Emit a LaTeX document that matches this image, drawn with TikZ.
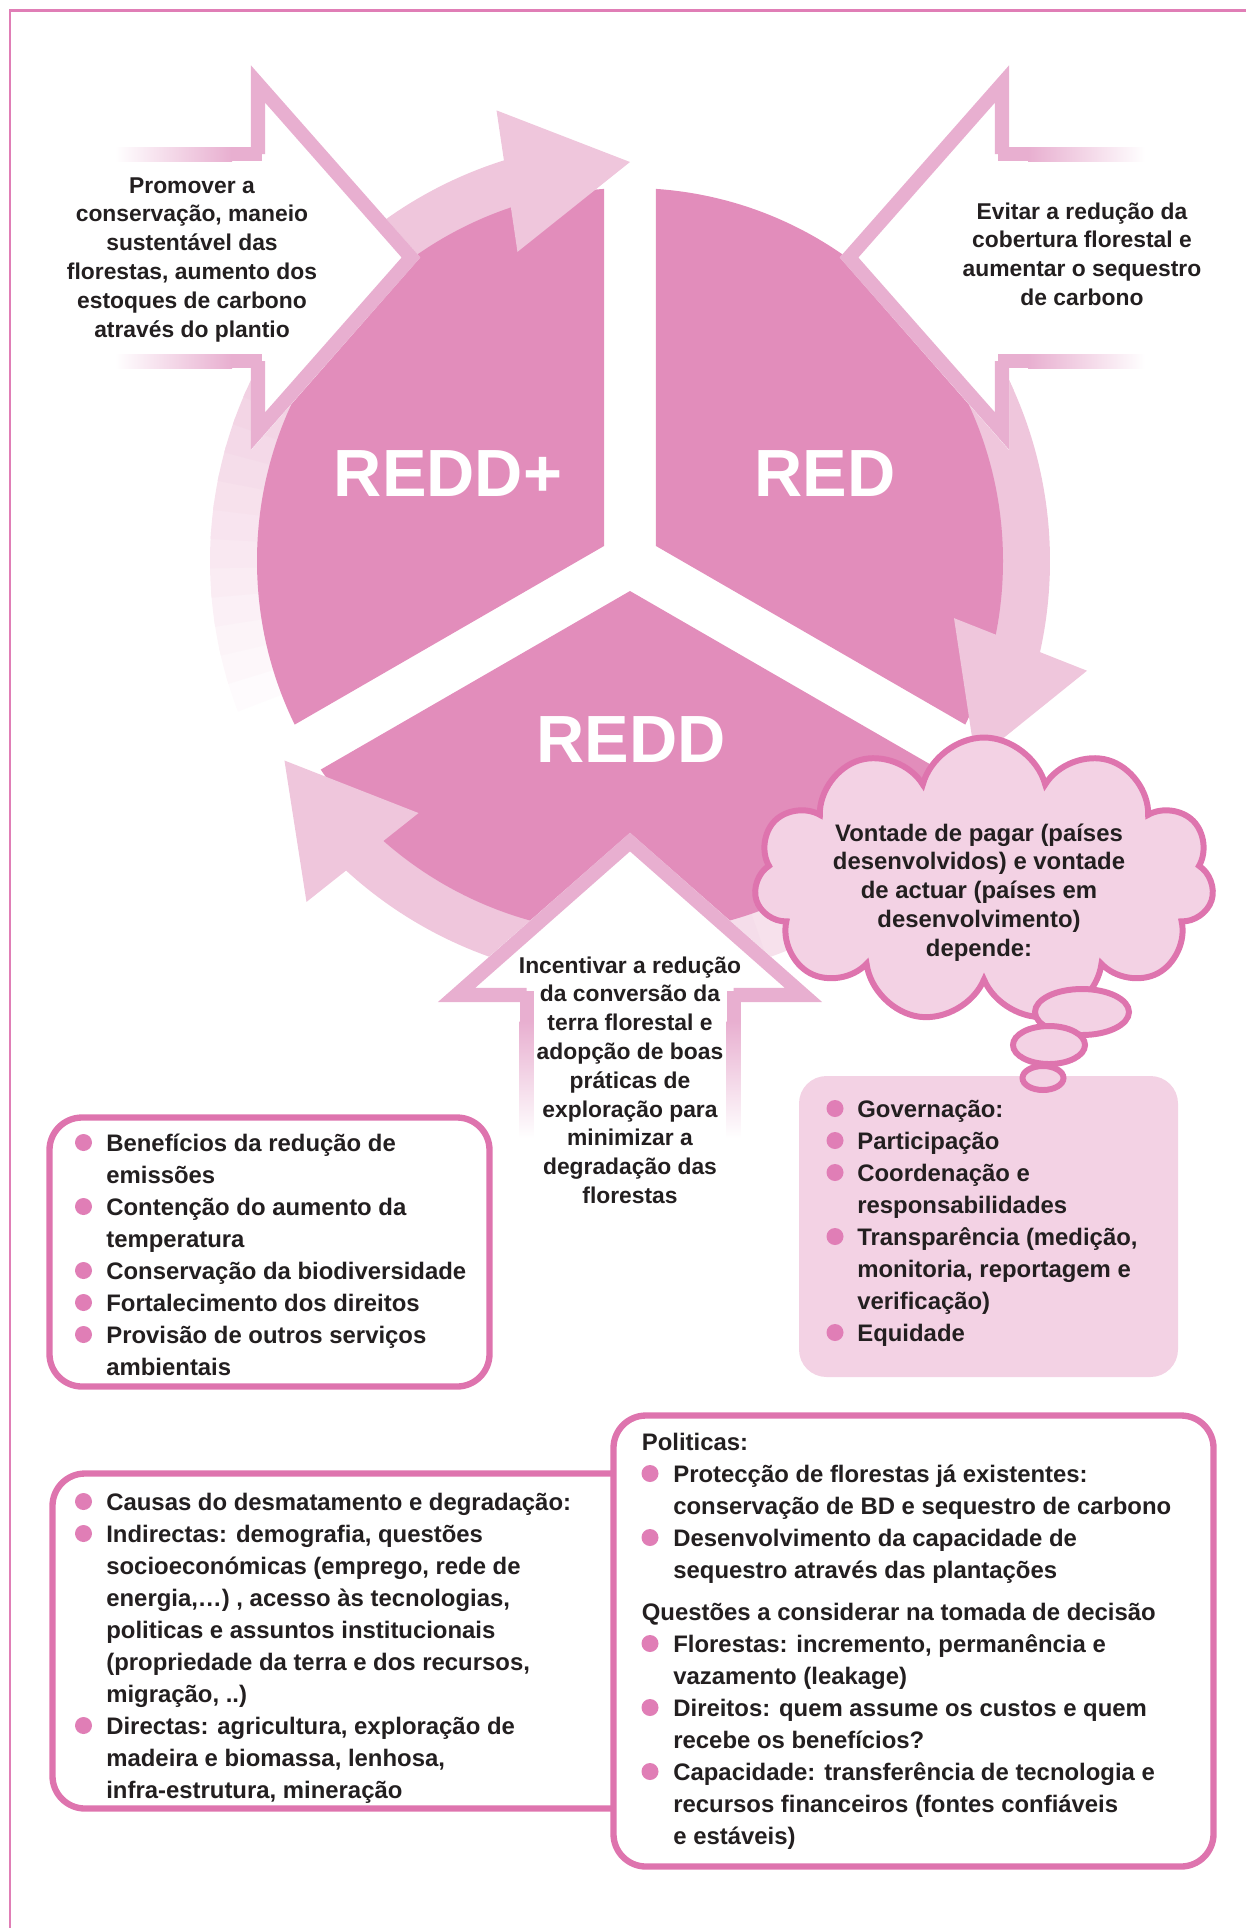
\documentclass[tikz,border=0pt]{standalone}
\usepackage{fontspec}
\setmainfont{Liberation Sans}
\usetikzlibrary{shapes.symbols}

\definecolor{reddpink}{HTML}{E28DBB}
\definecolor{bandpink}{HTML}{EFC6DC}
\definecolor{callpink}{HTML}{E8AFD0}
\definecolor{boxpink}{HTML}{DE74AE}
\definecolor{cloudfill}{HTML}{F3D2E4}
\definecolor{dotpink}{HTML}{E07EB6}
\definecolor{ink}{HTML}{231F20}

\begin{document}
\begin{tikzpicture}[x=0.02cm, y=-0.02cm,
    boxtxt/.style={anchor=base west, inner sep=0pt, text=ink, font=\fontsize{13.6}{16}\selectfont\bfseries},
    calltxt/.style={anchor=base, inner sep=0pt, text=ink, font=\fontsize{13}{16}\selectfont\bfseries},
    cloudtxt/.style={calltxt, font=\fontsize{13.6}{16}\selectfont\bfseries},
    bigtxt/.style={inner sep=0pt, text=white, font=\fontsize{38}{40}\selectfont\bfseries},
    listbox/.style={draw=boxpink, line width=3.6pt, fill=white, rounded corners=0.65cm},
    callout/.style={draw=callpink, line width=8pt, line join=miter},
    bubble/.style={draw=boxpink, line width=3.4pt, fill=cloudfill}]
\useasboundingbox (0,0) rectangle (1246,1928);
% frame
\draw[dotpink, line width=1.7pt] (1246,10) -- (10,10) -- (10,1928);

% circle with the three arrows round it
\begin{scope}[shift={(630,561)}]
  \foreach \s/\f in {0/155,120/198,240/155} {
    \foreach \i in {0,...,14} {
      \pgfmathsetmacro\a{\f+\s+\i*(215-\f)/15}
      \pgfmathsetmacro\b{\a+(215-\f)/15+1}
      \pgfmathsetmacro\p{\i*100/15}
      \fill[bandpink!\p!white] (\a:350) arc[start angle=\a, end angle=\b, radius=350]
        -- (\b:420) arc[start angle=\b, end angle=\a, radius=420] -- cycle;
    }
    \fill[bandpink] (214+\s:350) arc[start angle=214+\s, end angle=253+\s, radius=350]
      -- (253+\s:420) arc[start angle=253+\s, end angle=214+\s, radius=420] -- cycle;
  }
  \begin{scope}
    \clip (0,0) circle[radius=373];
    \foreach \b in {90,210,330}
      \fill[reddpink] (\b:30) -- +(\b-60:900) -- +(\b:900) -- +(\b+60:900) -- cycle;
  \end{scope}
  \foreach \s in {0,120,240}
    \fill[bandpink] (250+\s:329) -- (270+\s:399) -- (253.5+\s:470) -- cycle;
\end{scope}

% left callout
\fill[white] (115,147) -- (251,147) -- (251,65) -- (420,257.5) -- (251,450) -- (251,368) -- (115,368) -- cycle;
\draw[callout] (258,154) -- (258,84) -- (411,257.5) -- (258,431) -- (258,361);
\shade[left color=white, right color=callpink] (115,147) rectangle (232,161);
\shade[left color=white, right color=callpink] (115,354) rectangle (232,368);
\fill[callpink] (231,147) rectangle (262,161);
\fill[callpink] (231,354) rectangle (262,368);

% right callout
\fill[white] (1145,147) -- (1009,147) -- (1009,65) -- (840,257.5) -- (1009,450) -- (1009,368) -- (1145,368) -- cycle;
\draw[callout] (1002,154) -- (1002,84) -- (849,257.5) -- (1002,431) -- (1002,361);
\shade[left color=callpink, right color=white] (1028,147) rectangle (1145,161);
\shade[left color=callpink, right color=white] (1028,354) rectangle (1145,368);
\fill[callpink] (998,147) rectangle (1029,161);
\fill[callpink] (998,354) rectangle (1029,368);

% bottom callout
\fill[white] (519.5,1138) -- (519.5,1002) -- (437.5,1002) -- (630,833) -- (822.5,1002) -- (740.5,1002) -- (740.5,1138) -- cycle;
\draw[callout] (526.5,995) -- (456.5,995) -- (630,842) -- (803.5,995) -- (733.5,995);
\shade[top color=callpink, bottom color=white] (519.5,1021) rectangle (533.5,1138);
\shade[top color=callpink, bottom color=white] (726.5,1021) rectangle (740.5,1138);
\fill[callpink] (519.5,991) rectangle (533.5,1022);
\fill[callpink] (726.5,991) rectangle (740.5,1022);

\node[bigtxt] (reddplus) at (448,474) {REDD+};
\node[bigtxt] (red) at (825,474) {RED};
\node[bigtxt] (redd) at (631,740) {REDD};

\foreach \t [count=\k from 0] in {Promover a, {conservação, maneio}, sustentável das,
    {florestas, aumento dos}, estoques de carbono, através do plantio}
  \node[calltxt] (prom\k) at (192,{193+28.8*\k}) {\t};
\foreach \t [count=\k from 0] in {Evitar a redução da, cobertura florestal e,
    aumentar o sequestro, de carbono}
  \node[calltxt] (evit\k) at (1082,{219+28.8*\k}) {\t};
\foreach \t [count=\k from 0] in {Incentivar a redução, da conversão da, terra florestal e,
    adopção de boas, práticas de, exploração para, minimizar a, degradação das, florestas}
  \node[calltxt] (inc\k) at (630,{973+28.8*\k}) {\t};

% list boxes
\draw[listbox] (49.5,1117.5) rectangle (489.5,1386.5);
\fill[cloudfill, rounded corners=0.55cm] (799,1076) rectangle (1178,1377);
\draw[listbox] (52.5,1473.5) rectangle (660,1808.5);
\draw[listbox] (613.5,1415.5) rectangle (1213.5,1866.5);

\foreach \t [count=\k from 0] in {Benefícios da redução de, emissões, Contenção do aumento da,
    temperatura, Conservação da biodiversidade, Fortalecimento dos direitos,
    Provisão de outros serviços, ambientais}
  \node[boxtxt] (ben\k) at (106,{1151+32*\k}) {\t};
\foreach \k in {0,2,4,5,6}
  \fill[dotpink] (83.5,{1142.5+32*\k}) circle[radius=8.5];

\foreach \t [count=\k from 0] in {Governação:, Participação, Coordenação e, responsabilidades,
    {Transparência (medição,}, {monitoria, reportagem e}, verificação), Equidade}
  \node[boxtxt] (gov\k) at (857,{1117+32*\k}) {\t};
\foreach \k in {0,1,2,4,7}
  \fill[dotpink] (835,{1108.5+32*\k}) circle[radius=8.5];

\foreach \t [count=\k from 0] in {Causas do desmatamento e degradação:,
    {Indirectas: demografia, questões}, {socioeconómicas (emprego, rede de},
    {energia,…) , acesso às tecnologias,}, politicas e assuntos institucionais,
    {(propriedade da terra e dos recursos,}, {migração, ..)},
    {Directas: agricultura, exploração de}, {madeira e biomassa, lenhosa,},
    {infra-estrutura, mineração}}
  \node[boxtxt] (caus\k) at (106,{1510+32*\k}) {\t};
\foreach \k in {0,1,7}
  \fill[dotpink] (83.5,{1501.5+32*\k}) circle[radius=8.5];

\node[boxtxt] (polit) at (641.5,1450) {Politicas:};
\foreach \t [count=\k from 0] in {Protecção de florestas já existentes:,
    conservação de BD e sequestro de carbono, Desenvolvimento da capacidade de,
    sequestro através das plantações}
  \node[boxtxt] (pol\k) at (673,{1482+32*\k}) {\t};
\node[boxtxt] (quest) at (641.5,1620) {Questões a considerar na tomada de decisão};
\foreach \t [count=\k from 0] in {{Florestas: incremento, permanência e}, vazamento (leakage),
    Direitos: quem assume os custos e quem, recebe os benefícios?,
    Capacidade: transferência de tecnologia e, recursos financeiros (fontes confiáveis,
    e estáveis)}
  \node[boxtxt] (dec\k) at (673,{1652+32*\k}) {\t};
\foreach \y in {1482,1546,1652,1716,1780}
  \fill[dotpink] (650,{\y-8.5}) circle[radius=8.5];

% thought cloud
\node[cloud, cloud puffs=11, cloud puff arc=150, aspect=1.6, draw=boxpink, line width=3.4pt,
  fill=cloudfill, minimum width=9.2cm, minimum height=5.7cm] (thought) at (984,880) {};
\draw[bubble] (1082,1012) ellipse[x radius=47, y radius=23];
\draw[bubble] (1049,1045) ellipse[x radius=36, y radius=19];
\draw[bubble] (1043,1078) ellipse[x radius=20.5, y radius=12];
\foreach \t [count=\k from 0] in {Vontade de pagar (países, desenvolvidos) e vontade,
    de actuar (países em, desenvolvimento), depende:}
  \node[cloudtxt] (vont\k) at (979,{841+28.8*\k}) {\t};
\end{tikzpicture}
\end{document}
